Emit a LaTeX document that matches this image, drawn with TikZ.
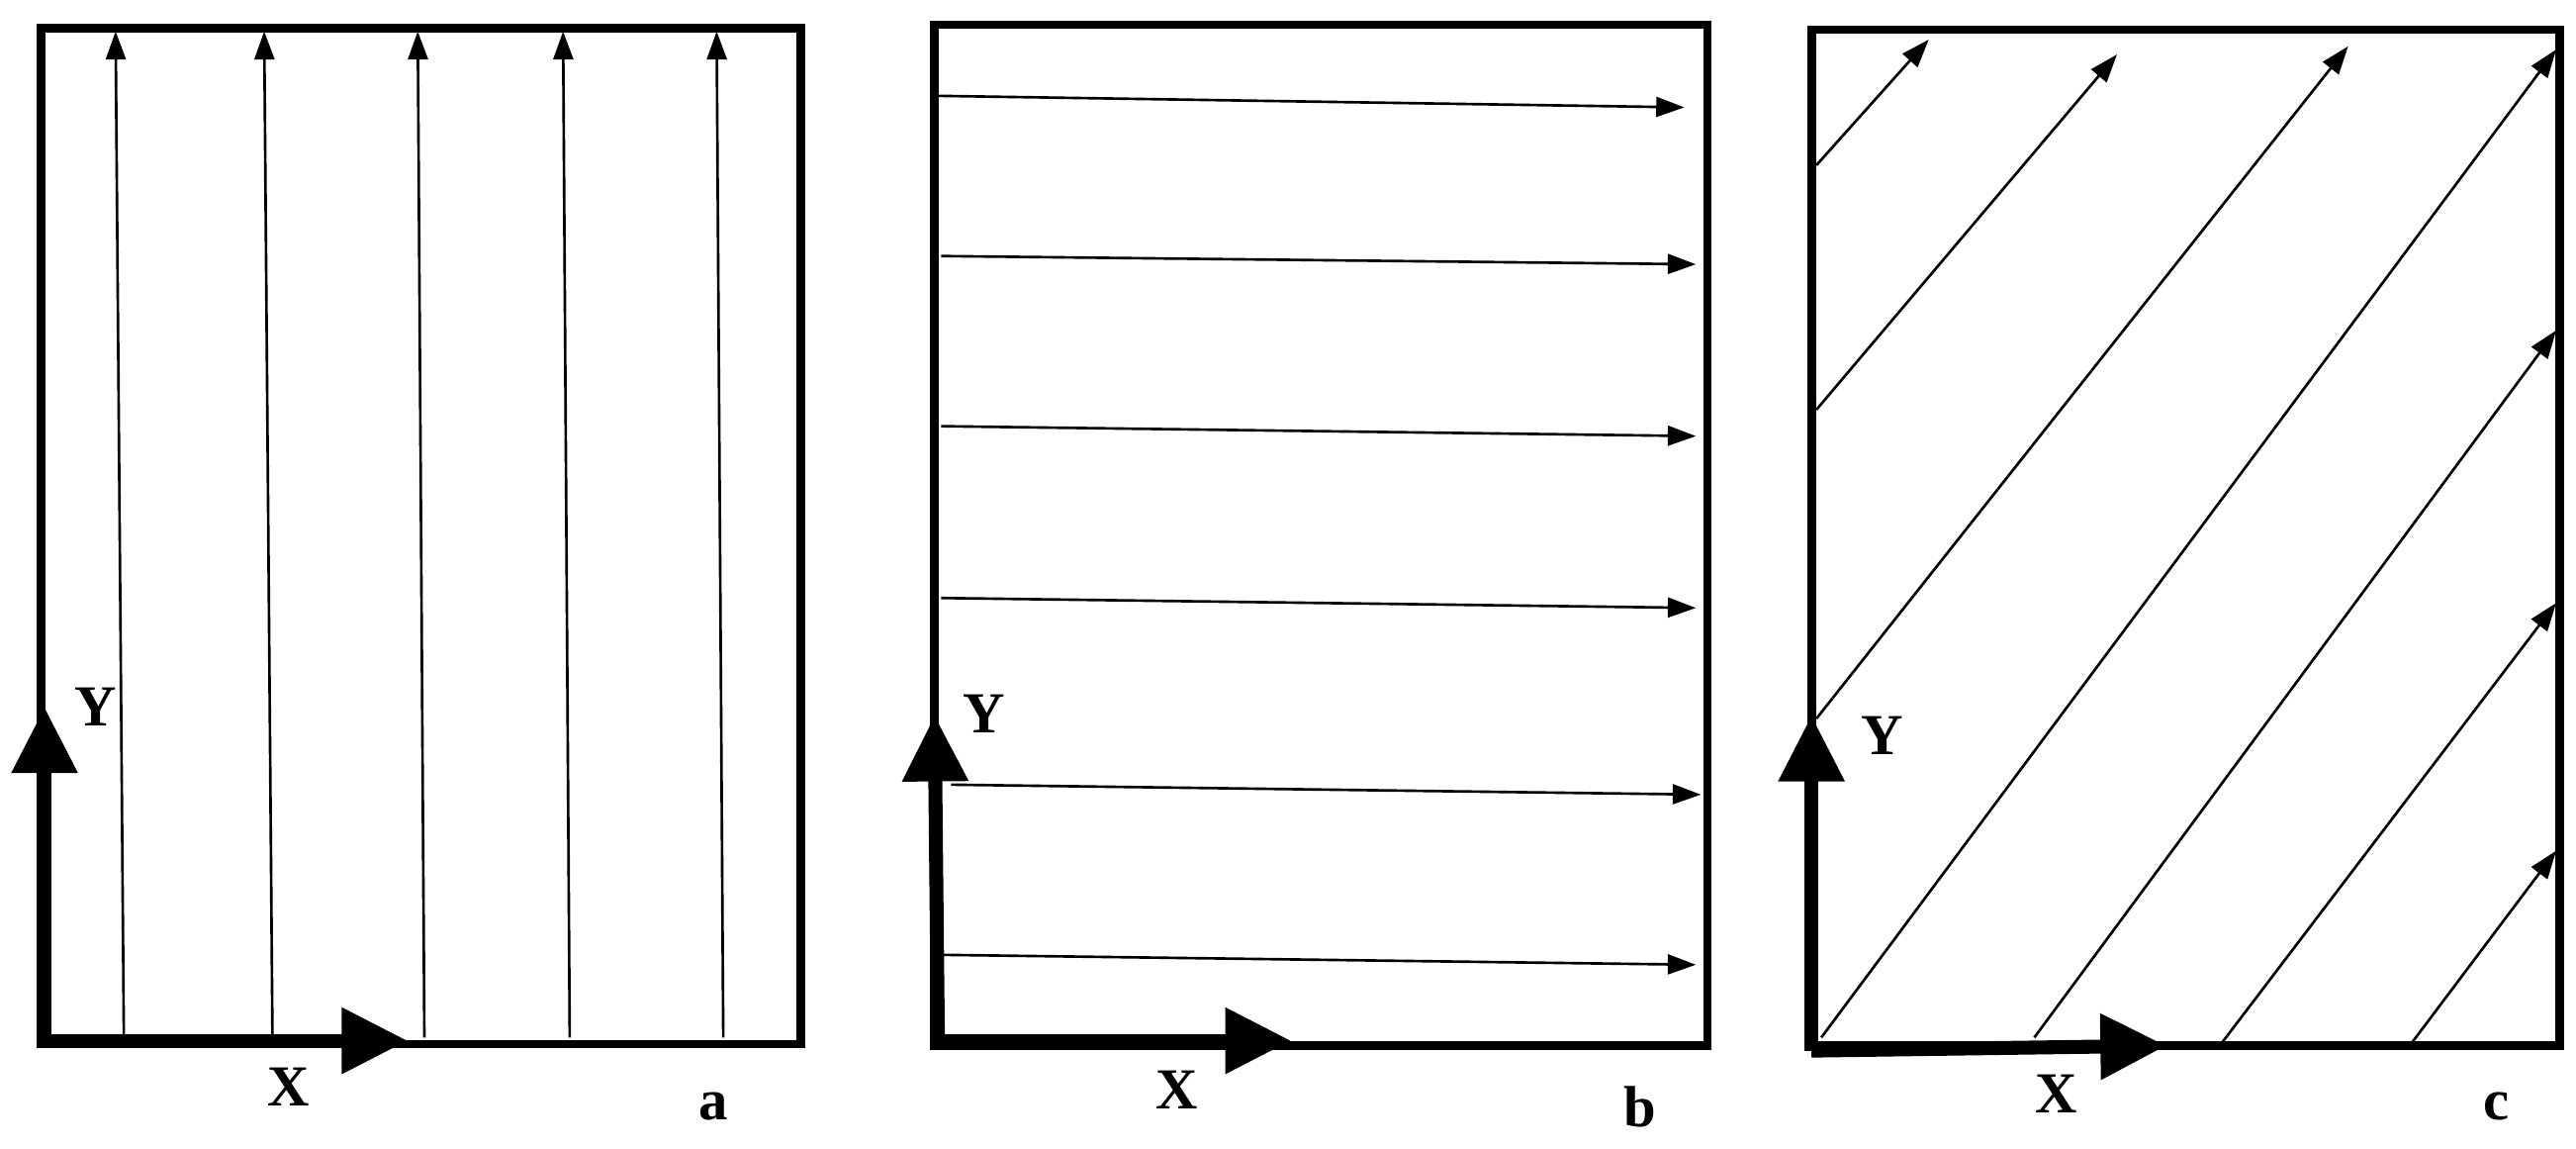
\documentclass[tikz,border=0pt]{standalone}
\usepackage{fontspec}
\setmainfont{Liberation Serif}
\usetikzlibrary{arrows.meta}
\begin{document}
\begin{tikzpicture}[x=0.01cm,y=-0.01cm,
  frame/.style={line width=1.5pt},
  flow/.style={line width=0.45pt,-{Triangle[length=0.17cm,width=0.12cm]}},
  axis/.style={line width=2.4pt,-{Triangle[length=0.4cm,width=0.38cm]}},
  lab/.style={font=\bfseries\fontsize{10}{12}\selectfont}]
\useasboundingbox (0,0) rectangle (1560,695);
% panel a
\draw[frame] (25,17) rectangle (485,632);
\foreach \a/\b in {75/70,165/160,257/253,345/341,438/434}
  \draw[flow] (\a,628) -- (\b,19);
\coordinate (ao) at (27,630);
\draw[axis] (ao) -- (27,428);
\draw[axis] (ao) -- (247,630);
\node[lab] (ay) at (58,428) {Y};
\node[lab] (ax) at (175,658) {X};
\node[lab] (al) at (432,670) {a};
% panel b
\draw[frame] (566,15) rectangle (1034,633);
\foreach \ya/\yb/\xa/\xb in {58/65/566/1020,155/160/570/1027,258/264/570/1027,362/368/570/1027,475/481/576/1030,578/584/570/1027}
  \draw[flow] (\xa,\ya) -- (\xb,\yb);
\coordinate (bo) at (568,630);
\draw[axis] (bo) -- (566,433);
\draw[axis] (bo) -- (782,630);
\node[lab] (by) at (596,432) {Y};
\node[lab] (bx) at (713,660) {X};
\node[lab] (bl) at (993,670) {b};
% panel c
\draw[frame] (1097,18) rectangle (1550,633);
\foreach \xa/\ya/\xb/\yb in {1100/100/1168/24,1100/248/1282/33,1100/435/1422/28,1103/628/1548/30,1232/628/1548/200,1345/632/1548/365,1460/632/1548/515}
  \draw[flow] (\xa,\ya) -- (\xb,\yb);
\coordinate (co) at (1097,636);
\draw[axis] (co) -- (1097,433);
\draw[axis] (co) -- (1312,633);
\node[lab] (cy) at (1140,445) {Y};
\node[lab] (cx) at (1245,662) {X};
\node[lab] (cl) at (1512,670) {c};
\end{tikzpicture}
\end{document}
